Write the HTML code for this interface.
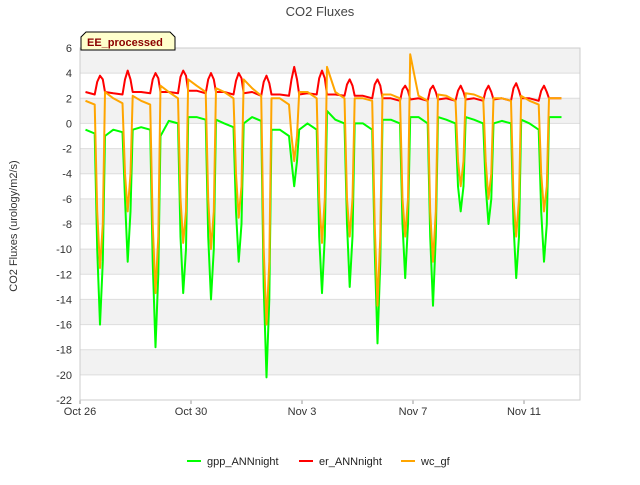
<!DOCTYPE html>
<html><head><meta charset="utf-8"><style>
body{margin:0;background:#fff;font-family:"Liberation Sans",sans-serif}
svg text{font-family:"Liberation Sans",sans-serif}
</style></head><body>
<svg id="c" width="640" height="480" xmlns="http://www.w3.org/2000/svg">
<text x="320" y="16" text-anchor="middle" font-size="13" fill="#444">CO2 Fluxes</text>
<text transform="translate(17,226) rotate(-90)" text-anchor="middle" font-size="11" fill="#333">CO2 Fluxes (urology/m2/s)</text>
<g id="bands"></g><g id="grid"></g><g id="series"></g><g id="axes"></g>
<g>
<path d="M81,50 L81,37 L86,32 L170,32 L175,37 L175,50 Z" fill="#ffffcc" stroke="#000" stroke-width="1"/>
<text x="87" y="46" font-size="11" font-weight="bold" fill="#8b0000">EE_processed</text>
</g>
<g>
<line x1="187" y1="461" x2="201" y2="461" stroke="#00ff00" stroke-width="2"/>
<text x="207" y="465" font-size="11" fill="#222">gpp_ANNnight</text>
<line x1="299" y1="461" x2="313" y2="461" stroke="#ff0000" stroke-width="2"/>
<text x="319" y="465" font-size="11" fill="#222">er_ANNnight</text>
<line x1="401" y1="461" x2="415" y2="461" stroke="#ffa500" stroke-width="2"/>
<text x="421" y="465" font-size="11" fill="#222">wc_gf</text>
</g>
</svg>
<script>
const xTickLabels=["Oct 26","Oct 30","Nov 3","Nov 7","Nov 11"];
const xTickDays=[0,4,8,12,16];
const yTicks=[6,4,2,0,-2,-4,-6,-8,-10,-12,-14,-16,-18,-20,-22];
const dayOffsets=[0.2,0.53,0.62,0.72,0.82,0.9];
const gpp=[
[-0.5,-0.8,-10,-16,-11,-1],[-0.5,-0.7,-6,-11,-7,-0.5],[-0.3,-0.5,-11,-17.8,-12,-1],
[0.2,0,-9,-13.5,-10,0.5],[0.5,0.3,-9,-14,-10,0.3],[0,-0.3,-7,-11,-8,0],
[0.5,0.2,-13,-20.2,-14,-0.5],[-0.5,-1,-3,-5,-3,-0.5],[0,-0.5,-9,-13.5,-9,1],
[0.3,0,-8,-13,-9,0],[0,-0.5,-10,-17.5,-11,0.3],[0.3,0,-8,-12.3,-8,0.5],
[0.5,0,-9,-14.5,-9,0.5],[0.3,0,-5,-7,-5,0.5],[0.3,0,-5,-8,-6,0],
[0.2,0,-8,-12.3,-9,0.3],[0,-0.5,-7,-11,-8,0.5]];
const er=[
[2.5,2.3,3.3,3.8,3.5,2.5],[2.4,2.3,3.5,4.2,3.5,2.5],[2.5,2.4,3.5,4,3.6,2.5],
[2.5,2.4,3.7,4.2,3.8,2.6],[2.6,2.4,3.5,4,3.5,2.5],[2.5,2.3,3.4,4,3.6,2.4],
[2.5,2.2,3.3,3.8,3.2,2.3],[2.3,2.2,3.5,4.5,3.5,2.3],[2.4,2.3,3.6,4.2,3.6,2.3],
[2.3,2.2,3.1,3.5,3,2.2],[2.2,2,3.1,3.5,3,2],[2,1.8,2.7,3,2.6,1.9],
[2,1.8,2.7,3,2.5,1.9],[2,1.8,2.6,3,2.5,1.9],[2,1.8,2.6,3,2.5,1.9],
[2,1.8,2.8,3.2,2.6,2],[2,1.8,2.6,3,2.5,2]];
const wc=[
[1.8,1.5,-7,-11.5,-8,2.5],[2,1.6,-4,-7,-4,2.2],[1.8,1.5,-8,-13.5,-9,3],
[2.5,2,-6,-9.5,-7,3.5],[3,2.5,-6,-10,-7,2.8],[2.5,2,-4,-7.5,-5,3.5],
[2.8,2.2,-10,-16,-11,2],[2,1.5,-1,-3,-1,2.5],[2.5,2,-6,-9.5,-6,4.5],
[2.5,2,-6,-9,-6,2],[2,1.8,-8,-14.5,-9,2.3],[2.3,2,-6,-9,-6,5.5],
[2.2,1.8,-7,-11,-7,2.3],[2.2,1.8,-3,-5,-3,2.4],[2.3,2,-3,-6,-4,2],
[2,1.8,-6,-9,-6,2.2],[1.8,1.5,-4,-7,-5,2]];
const lastDay=17.35, lastGpp=0.5, lastEr=2, lastWc=2;
const X0=80,X1=580,Y0=48,Y1=400,DAYPX=27.75;
const xs=d=>X0+d*DAYPX;
const ys=v=>Y0+(6-v)*(Y1-Y0)/28;
const NS="http://www.w3.org/2000/svg";
function mk(tag,attrs,parent){const e=document.createElementNS(NS,tag);for(const k in attrs)e.setAttribute(k,attrs[k]);parent.appendChild(e);return e;}
const bands=document.getElementById('bands'),grid=document.getElementById('grid'),axes=document.getElementById('axes'),series=document.getElementById('series');
for(let v=6;v>-22;v-=4){const r=mk('rect',{x:X0,y:ys(v),width:X1-X0,height:ys(v-2)-ys(v),fill:'#f2f2f2'},bands);

}
yTicks.forEach(v=>{const l=mk('line',{x1:X0,x2:X1,y1:ys(v),y2:ys(v),stroke:'#ddd','stroke-width':1},grid);


const t=mk('text',{x:X0-8,y:ys(v)+4,'text-anchor':'end','font-size':11,fill:'#333'},axes);t.textContent=v;

});
xTickDays.forEach((d,i)=>{const t=mk('text',{x:xs(d),y:415,'text-anchor':'middle','font-size':11,fill:'#333'},axes);t.textContent=xTickLabels[i];


const tk=mk('line',{x1:xs(d),x2:xs(d),y1:Y1,y2:Y1+4,stroke:'#999'},axes);

});
const fr=mk('rect',{x:X0,y:Y0,width:X1-X0,height:Y1-Y0,fill:'none',stroke:'#ccc'},axes);


function draw(arr,last,color,name){let pts=[];arr.forEach((day,d)=>day.forEach((v,j)=>pts.push(xs(d+dayOffsets[j]).toFixed(1)+','+ys(v).toFixed(1))));
pts.push(xs(lastDay).toFixed(1)+','+ys(last).toFixed(1));
const p=mk('polyline',{points:pts.join(' '),fill:'none',stroke:color,'stroke-width':2,'stroke-linejoin':'round'},series);

}
draw(gpp,lastGpp,'#00ff00','gpp-line');
draw(er,lastEr,'#ff0000','er-line');
draw(wc,lastWc,'#ffa500','wc-line');
</script>
</body></html>
